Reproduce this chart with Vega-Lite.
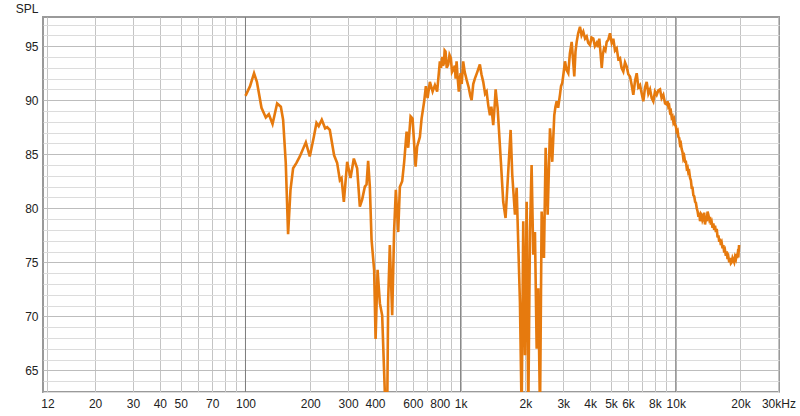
{
  "$schema": "https://vega.github.io/schema/vega-lite/v6.json",
  "width": 736,
  "height": 375,
  "autosize": {"type": "none"},
  "padding": {"left": 43, "top": 17, "right": 21, "bottom": 24},
  "background": "white",
  "config": {
    "view": {"stroke": "#9a9a9a", "strokeWidth": 2},
    "font": "Liberation Sans"
  },
  "encoding": {
    "x": {
      "field": "freq", "type": "quantitative",
      "scale": {"type": "log", "domain": [11.45, 30200], "nice": false},
      "axis": {
        "title": null,
        "values": [12, 20, 30, 40, 50, 60, 70, 80, 90, 100, 200, 300, 400, 500, 600, 700, 800, 900, 1000, 2000, 3000, 4000, 5000, 6000, 7000, 8000, 9000, 10000, 20000, 30000],
        "labelExpr": "indexof([12,20,30,40,50,70,100,200,300,400,600,800,1000,2000,3000,4000,5000,6000,8000,10000,20000,30000], datum.value) < 0 ? '' : (datum.value == 30000 ? '30kHz' : (datum.value >= 1000 ? (datum.value/1000) + 'k' : '' + datum.value))",
        "labelOverlap": false,
        "labelFlush": false,
        "labelBound": false,
        "labelFontSize": 12,
        "labelColor": "#222",
        "labelPadding": 6,
        "ticks": false,
        "domain": false,
        "grid": true,
        "gridColor": "#c4c4c4",
        "gridWidth": 1
      }
    }
  },
  "layer": [
    {
      "data": {"values": [{"freq": 100}, {"freq": 1000}, {"freq": 10000}]},
      "mark": {"type": "rule", "color": "#7d7d7d", "strokeWidth": 1},
      "encoding": {}
    },
    {
      "data": {"values": [
        {"freq": 100, "spl": 90.4}, {"freq": 105, "spl": 91.3}, {"freq": 109.6, "spl": 92.5}, {"freq": 113, "spl": 91.7},
        {"freq": 118.7, "spl": 89.3}, {"freq": 124.3, "spl": 88.4}, {"freq": 128.4, "spl": 88.7}, {"freq": 133.6, "spl": 87.8},
        {"freq": 140.3, "spl": 89.7}, {"freq": 146, "spl": 89.4}, {"freq": 149.6, "spl": 88.2}, {"freq": 153.9, "spl": 84.2},
        {"freq": 157.8, "spl": 77.6}, {"freq": 161.9, "spl": 81.7}, {"freq": 166.5, "spl": 83.7}, {"freq": 172.6, "spl": 84.2},
        {"freq": 178.9, "spl": 84.8}, {"freq": 190.8, "spl": 86.1}, {"freq": 199, "spl": 84.8}, {"freq": 207.8, "spl": 86.6},
        {"freq": 213.8, "spl": 87.9}, {"freq": 219, "spl": 87.6}, {"freq": 226.3, "spl": 88.2}, {"freq": 234.6, "spl": 87.4},
        {"freq": 239.7, "spl": 87.5}, {"freq": 246.6, "spl": 87.25}, {"freq": 258.2, "spl": 84.9}, {"freq": 266.7, "spl": 84.2},
        {"freq": 274.6, "spl": 82.6}, {"freq": 279.6, "spl": 82.8}, {"freq": 286.6, "spl": 80.6}, {"freq": 297, "spl": 84.3},
        {"freq": 307.8, "spl": 82.8}, {"freq": 318.9, "spl": 84.6}, {"freq": 330.4, "spl": 83.7}, {"freq": 340.1, "spl": 80.15},
        {"freq": 348.6, "spl": 80.8}, {"freq": 358.8, "spl": 82.0}, {"freq": 365.4, "spl": 82.2}, {"freq": 371.7, "spl": 84.4},
        {"freq": 378.5, "spl": 82.0}, {"freq": 385.5, "spl": 77.1}, {"freq": 396.3, "spl": 74.3}, {"freq": 402.5, "spl": 67.9},
        {"freq": 411.2, "spl": 74.3}, {"freq": 421.5, "spl": 71.2}, {"freq": 431.9, "spl": 70.1}, {"freq": 441.3, "spl": 64.7},
        {"freq": 447.8, "spl": 61}, {"freq": 455.7, "spl": 61}, {"freq": 460.6, "spl": 71.5}, {"freq": 468.8, "spl": 76.6},
        {"freq": 480.8, "spl": 70.1}, {"freq": 491, "spl": 78.0}, {"freq": 500, "spl": 81.7}, {"freq": 512.7, "spl": 77.8},
        {"freq": 522.1, "spl": 82.0}, {"freq": 535.1, "spl": 82.5}, {"freq": 546.7, "spl": 84.3}, {"freq": 561, "spl": 87.1},
        {"freq": 570.7, "spl": 85.6}, {"freq": 585.5, "spl": 88.5}, {"freq": 598, "spl": 88.3}, {"freq": 617.6, "spl": 83.85},
        {"freq": 628, "spl": 85.7}, {"freq": 646.7, "spl": 86.6}, {"freq": 658.6, "spl": 88.3}, {"freq": 677.2, "spl": 89.9},
        {"freq": 689.6, "spl": 91.3}, {"freq": 702.3, "spl": 90.2}, {"freq": 719.8, "spl": 91.7}, {"freq": 741, "spl": 90.8},
        {"freq": 759.5, "spl": 91.4}, {"freq": 778, "spl": 90.8}, {"freq": 801, "spl": 93.6}, {"freq": 811, "spl": 93.0},
        {"freq": 821, "spl": 94.0}, {"freq": 828, "spl": 93.2}, {"freq": 836, "spl": 93.4}, {"freq": 843, "spl": 94.6},
        {"freq": 851, "spl": 94.5}, {"freq": 862, "spl": 93.0}, {"freq": 875.6, "spl": 93.3}, {"freq": 888, "spl": 94.2},
        {"freq": 901, "spl": 93.9}, {"freq": 912, "spl": 92.6}, {"freq": 923.8, "spl": 92.8}, {"freq": 940, "spl": 93.2},
        {"freq": 948, "spl": 92.0}, {"freq": 957.8, "spl": 93.6}, {"freq": 968, "spl": 92.2}, {"freq": 981, "spl": 90.8},
        {"freq": 990, "spl": 91.8}, {"freq": 1000, "spl": 92.5}, {"freq": 1012, "spl": 91.5}, {"freq": 1028, "spl": 93.6},
        {"freq": 1045, "spl": 92.6}, {"freq": 1066, "spl": 91.9}, {"freq": 1090, "spl": 91.2}, {"freq": 1110, "spl": 90.4},
        {"freq": 1125, "spl": 90.0}, {"freq": 1145, "spl": 91.5}, {"freq": 1165, "spl": 92.0}, {"freq": 1195, "spl": 92.6},
        {"freq": 1229, "spl": 93.3}, {"freq": 1250, "spl": 92.4}, {"freq": 1274, "spl": 91.7}, {"freq": 1300, "spl": 90.6},
        {"freq": 1321, "spl": 90.8}, {"freq": 1345, "spl": 89.5}, {"freq": 1369, "spl": 88.6}, {"freq": 1390, "spl": 89.4},
        {"freq": 1418, "spl": 87.7}, {"freq": 1440, "spl": 89.5}, {"freq": 1455, "spl": 91.0}, {"freq": 1470, "spl": 90.1},
        {"freq": 1486, "spl": 89.3}, {"freq": 1510, "spl": 87.0}, {"freq": 1539, "spl": 84.3}, {"freq": 1578, "spl": 80.6},
        {"freq": 1618, "spl": 79.1}, {"freq": 1665, "spl": 83.4}, {"freq": 1708, "spl": 87.25}, {"freq": 1738, "spl": 83.1},
        {"freq": 1789, "spl": 79.4}, {"freq": 1822, "spl": 81.9}, {"freq": 1854, "spl": 76.6}, {"freq": 1887, "spl": 71.35},
        {"freq": 1922, "spl": 61}, {"freq": 1955, "spl": 78.8}, {"freq": 1991, "spl": 66.4}, {"freq": 2028, "spl": 80.6},
        {"freq": 2063, "spl": 61}, {"freq": 2101, "spl": 77.8}, {"freq": 2138, "spl": 84.0}, {"freq": 2176, "spl": 75.7},
        {"freq": 2216, "spl": 77.8}, {"freq": 2257, "spl": 67.0}, {"freq": 2296, "spl": 72.6}, {"freq": 2339, "spl": 61},
        {"freq": 2381, "spl": 79.7}, {"freq": 2440, "spl": 75.4}, {"freq": 2485, "spl": 85.6}, {"freq": 2539, "spl": 79.4},
        {"freq": 2603, "spl": 87.4}, {"freq": 2667, "spl": 84.3}, {"freq": 2725, "spl": 88.6}, {"freq": 2760, "spl": 89.4},
        {"freq": 2796, "spl": 89.9}, {"freq": 2840, "spl": 89.3}, {"freq": 2896, "spl": 90.5}, {"freq": 2930, "spl": 91.3},
        {"freq": 2969, "spl": 91.6}, {"freq": 3010, "spl": 92.5}, {"freq": 3056, "spl": 93.6}, {"freq": 3110, "spl": 92.8},
        {"freq": 3166, "spl": 92.5}, {"freq": 3220, "spl": 94.3}, {"freq": 3283, "spl": 95.4}, {"freq": 3330, "spl": 93.8},
        {"freq": 3376, "spl": 92.2}, {"freq": 3420, "spl": 94.5}, {"freq": 3464, "spl": 95.4}, {"freq": 3520, "spl": 96.2},
        {"freq": 3589, "spl": 96.8}, {"freq": 3650, "spl": 96.0}, {"freq": 3717, "spl": 96.35}, {"freq": 3790, "spl": 95.7},
        {"freq": 3855, "spl": 95.9}, {"freq": 3920, "spl": 95.3}, {"freq": 3995, "spl": 95.1}, {"freq": 4060, "spl": 95.8},
        {"freq": 4138, "spl": 95.7}, {"freq": 4210, "spl": 95.0}, {"freq": 4292, "spl": 95.3}, {"freq": 4350, "spl": 94.9},
        {"freq": 4413, "spl": 95.7}, {"freq": 4470, "spl": 94.4}, {"freq": 4529, "spl": 93.0}, {"freq": 4580, "spl": 94.2},
        {"freq": 4641, "spl": 94.8}, {"freq": 4710, "spl": 94.6}, {"freq": 4776, "spl": 95.4}, {"freq": 4860, "spl": 95.6},
        {"freq": 4948, "spl": 96.2}, {"freq": 5040, "spl": 95.3}, {"freq": 5126, "spl": 95.7}, {"freq": 5220, "spl": 94.6},
        {"freq": 5316, "spl": 94.8}, {"freq": 5410, "spl": 93.8}, {"freq": 5508, "spl": 93.9}, {"freq": 5600, "spl": 93.0},
        {"freq": 5706, "spl": 92.65}, {"freq": 5810, "spl": 93.5}, {"freq": 5916, "spl": 93.1}, {"freq": 6020, "spl": 92.4},
        {"freq": 6130, "spl": 92.2}, {"freq": 6240, "spl": 91.4}, {"freq": 6350, "spl": 90.5}, {"freq": 6470, "spl": 91.8},
        {"freq": 6585, "spl": 92.5}, {"freq": 6700, "spl": 91.2}, {"freq": 6823, "spl": 91.4}, {"freq": 6950, "spl": 90.6},
        {"freq": 7069, "spl": 89.9}, {"freq": 7200, "spl": 91.2}, {"freq": 7329, "spl": 91.7}, {"freq": 7460, "spl": 90.6},
        {"freq": 7595, "spl": 91.0}, {"freq": 7730, "spl": 90.2}, {"freq": 7866, "spl": 89.9}, {"freq": 8010, "spl": 90.8},
        {"freq": 8156, "spl": 90.5}, {"freq": 8300, "spl": 90.9}, {"freq": 8452, "spl": 91.0}, {"freq": 8600, "spl": 90.2},
        {"freq": 8756, "spl": 90.5}, {"freq": 8920, "spl": 89.7}, {"freq": 9078, "spl": 89.6}, {"freq": 9160, "spl": 89.9},
        {"freq": 9240, "spl": 89.4}, {"freq": 9320, "spl": 89.5}, {"freq": 9408, "spl": 88.9}, {"freq": 9490, "spl": 89.0},
        {"freq": 9580, "spl": 88.4}, {"freq": 9660, "spl": 88.5}, {"freq": 9745, "spl": 88.0}, {"freq": 9830, "spl": 88.2},
        {"freq": 9920, "spl": 87.7}, {"freq": 10010, "spl": 87.6}, {"freq": 10103, "spl": 87.1}, {"freq": 10200, "spl": 87.2},
        {"freq": 10290, "spl": 86.6}, {"freq": 10380, "spl": 86.5}, {"freq": 10471, "spl": 85.9}, {"freq": 10560, "spl": 86.0},
        {"freq": 10650, "spl": 85.5}, {"freq": 10750, "spl": 85.2}, {"freq": 10846, "spl": 84.6}, {"freq": 10950, "spl": 84.8},
        {"freq": 11050, "spl": 84.3}, {"freq": 11150, "spl": 84.3}, {"freq": 11250, "spl": 83.7}, {"freq": 11350, "spl": 83.8},
        {"freq": 11450, "spl": 83.3}, {"freq": 11550, "spl": 83.4}, {"freq": 11655, "spl": 82.8}, {"freq": 11760, "spl": 82.6},
        {"freq": 11860, "spl": 81.9}, {"freq": 11970, "spl": 81.9}, {"freq": 12077, "spl": 81.2}, {"freq": 12190, "spl": 81.1},
        {"freq": 12300, "spl": 80.6}, {"freq": 12410, "spl": 80.5}, {"freq": 12521, "spl": 80.0}, {"freq": 12640, "spl": 79.7},
        {"freq": 12750, "spl": 79.2}, {"freq": 12860, "spl": 79.6}, {"freq": 12973, "spl": 78.8}, {"freq": 13090, "spl": 79.5},
        {"freq": 13200, "spl": 79.4}, {"freq": 13320, "spl": 78.9}, {"freq": 13437, "spl": 79.1}, {"freq": 13560, "spl": 79.6},
        {"freq": 13680, "spl": 78.5}, {"freq": 13800, "spl": 79.0}, {"freq": 13932, "spl": 78.8}, {"freq": 14060, "spl": 79.7},
        {"freq": 14180, "spl": 79.4}, {"freq": 14310, "spl": 79.0}, {"freq": 14436, "spl": 79.2}, {"freq": 14570, "spl": 78.5},
        {"freq": 14700, "spl": 78.7}, {"freq": 14830, "spl": 78.2}, {"freq": 14958, "spl": 78.6}, {"freq": 15090, "spl": 78.0},
        {"freq": 15230, "spl": 78.4}, {"freq": 15370, "spl": 77.8}, {"freq": 15510, "spl": 78.1}, {"freq": 15650, "spl": 77.3},
        {"freq": 15790, "spl": 77.5}, {"freq": 15930, "spl": 76.9}, {"freq": 16068, "spl": 77.2}, {"freq": 16210, "spl": 76.6},
        {"freq": 16360, "spl": 76.8}, {"freq": 16500, "spl": 76.3}, {"freq": 16649, "spl": 76.6}, {"freq": 16800, "spl": 75.9},
        {"freq": 16950, "spl": 76.1}, {"freq": 17100, "spl": 75.6}, {"freq": 17260, "spl": 76.0}, {"freq": 17410, "spl": 75.3},
        {"freq": 17570, "spl": 75.5}, {"freq": 17730, "spl": 75.0}, {"freq": 17887, "spl": 75.4}, {"freq": 18050, "spl": 74.9},
        {"freq": 18210, "spl": 75.0}, {"freq": 18370, "spl": 75.4}, {"freq": 18535, "spl": 75.2}, {"freq": 18700, "spl": 75.0},
        {"freq": 18870, "spl": 75.5}, {"freq": 19040, "spl": 75.3}, {"freq": 19218, "spl": 75.8}, {"freq": 19330, "spl": 75.4},
        {"freq": 19450, "spl": 75.9}, {"freq": 19580, "spl": 75.8}, {"freq": 19700, "spl": 76.6}
      ]},
      "mark": {"type": "line", "color": "#e67a0e", "strokeWidth": 2.6, "clip": true, "interpolate": "linear"},
      "encoding": {
        "y": {
          "field": "spl", "type": "quantitative",
          "scale": {"domain": [63, 97.7], "nice": false, "zero": false},
          "axis": {
            "title": "SPL",
            "titleAngle": 0,
            "titleAlign": "right",
            "titleBaseline": "middle",
            "titleX": -5,
            "titleY": -9,
            "titleFontSize": 12,
            "titleFontWeight": "normal",
            "titleColor": "#222",
            "values": [63, 64, 65, 66, 67, 68, 69, 70, 71, 72, 73, 74, 75, 76, 77, 78, 79, 80, 81, 82, 83, 84, 85, 86, 87, 88, 89, 90, 91, 92, 93, 94, 95, 96, 97],
            "labelExpr": "datum.value % 5 == 0 ? datum.label : ''",
            "labelOverlap": false,
            "labelFontSize": 12,
            "labelColor": "#222",
            "labelPadding": 5,
            "ticks": false,
            "domain": false,
            "grid": true,
            "gridColor": {"condition": {"test": "datum.value % 5 == 0", "value": "#bdbdbd"}, "value": "#dcdcdc"},
            "gridWidth": 1
          }
        }
      }
    }
  ]
}
